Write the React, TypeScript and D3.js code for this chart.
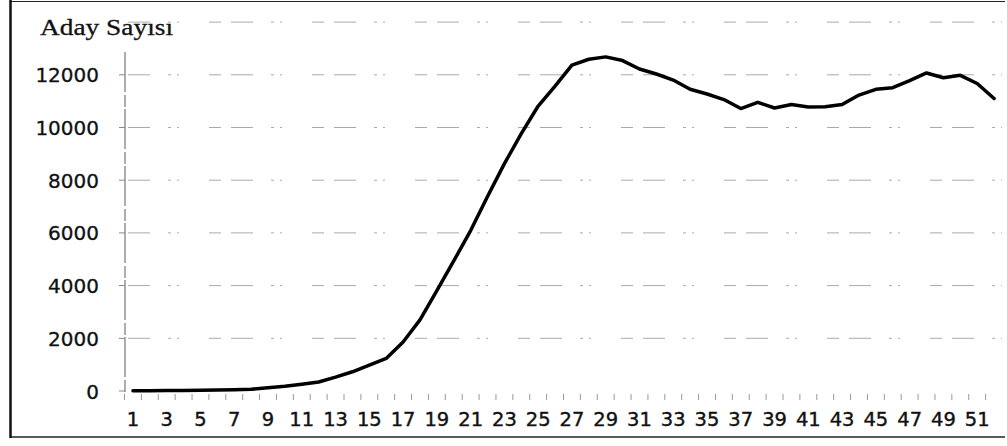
import React from "react";
import * as d3 from "d3";

const weeks: number[] = Array.from({ length: 52 }, (_, i) => i + 1);
const candidates: number[] = [
  10, 10, 15, 20, 25, 35, 45, 65, 120, 180,
  260, 340, 525, 730, 985, 1235, 1860, 2700, 3810, 4935,
  6090, 7385, 8630, 9765, 10815, 11570, 12370, 12590, 12680, 12540,
  12220, 12030, 11800, 11450, 11270, 11060, 10720, 10956, 10740, 10870,
  10780, 10790, 10870, 11230, 11450, 11510, 11780, 12070, 11890, 11980,
  11670, 11100,
];
const yTicks: number[] = [0, 2000, 4000, 6000, 8000, 10000, 12000];
const gridValues: number[] = [2000, 4000, 6000, 8000, 10000, 12000, 14000];
const xLabels: number[] = weeks.filter((w) => w % 2 === 1);
const title = "Aday Sayısı";

export default function App() {
  const W = 1007;
  const H = 446;
  const x = d3.scalePoint<number>().domain(weeks).range([124.5, 1002.5]).padding(0.5);
  const y = d3.scaleLinear().domain([0, 14000]).range([391, 22.1]);
  const step = x.step();
  const line = d3
    .line<number>()
    .x((_, i) => x(weeks[i]) as number)
    .y((d) => y(d))
    .curve(d3.curveLinear);

  const tickBounds = weeks.map((w) => (x(w) as number) - step / 2);

  return (
    <svg
      width={W}
      height={H}
      style={{ position: "absolute", left: 0, top: 0, background: "#fff" }}
    >
      <rect x={0} y={0} width={W} height={H} fill="#fff" />
      {/* outer frame */}
      <line x1={10} y1={1.5} x2={1005} y2={1.5} stroke="#222" strokeWidth={1.2} />
      <line x1={10} y1={437} x2={1005} y2={437} stroke="#222" strokeWidth={1.5} />
      <line x1={10.5} y1={0} x2={10.5} y2={438} stroke="#111" strokeWidth={2.5} />

      {/* gridlines */}
      {gridValues.map((v) => (
        <line
          key={v}
          x1={128}
          x2={1002}
          y1={y(v)}
          y2={y(v)}
          stroke="#aaa"
          strokeWidth={1}
          strokeDasharray="22 18 3 6 2 30 12 10"
        />
      ))}

      {/* y axis */}
      <line x1={125} x2={125} y1={52} y2={392} stroke="#777" strokeWidth={1.2} strokeDasharray="40 3 12 2" />
      {yTicks.map((v) => (
        <line key={"t" + v} x1={119} x2={125} y1={y(v)} y2={y(v)} stroke="#888" strokeWidth={1} />
      ))}
      {yTicks.map((v) => (
        <text
          key={"l" + v}
          x={99}
          y={y(v) + 7.5}
          textAnchor="end"
          fontFamily="DejaVu Sans, Verdana, sans-serif"
          fontSize={20}
          fill="#111"
          stroke="#111"
          strokeWidth={0.3}
        >
          {v}
        </text>
      ))}

      {/* x ticks */}
      {tickBounds.map((tx, i) => (
        <line
          key={"xt" + i}
          x1={tx}
          x2={tx}
          y1={394}
          y2={400}
          stroke="#999"
          strokeWidth={1}
        />
      ))}
      {xLabels.map((w) => (
        <text
          key={"xl" + w}
          x={x(w) as number}
          y={426}
          textAnchor="middle"
          fontFamily="DejaVu Sans, Verdana, sans-serif"
          fontSize={19.5}
          fill="#111"
          stroke="#111"
          strokeWidth={0.4}
        >
          {w}
        </text>
      ))}

      {/* title */}
      <text
        x={40}
        y={35}
        fontFamily="Liberation Serif, Times New Roman, serif"
        fontSize={23}
        textLength={133}
        lengthAdjust="spacingAndGlyphs"
        fill="#111"
        stroke="#111"
        strokeWidth={0.3}
      >
        {title}
      </text>

      {/* data line */}
      <path
        d={line(candidates) || ""}
        fill="none"
        stroke="#000"
        strokeWidth={3.5}
        strokeLinejoin="round"
        strokeLinecap="round"
      />
    </svg>
  );
}
